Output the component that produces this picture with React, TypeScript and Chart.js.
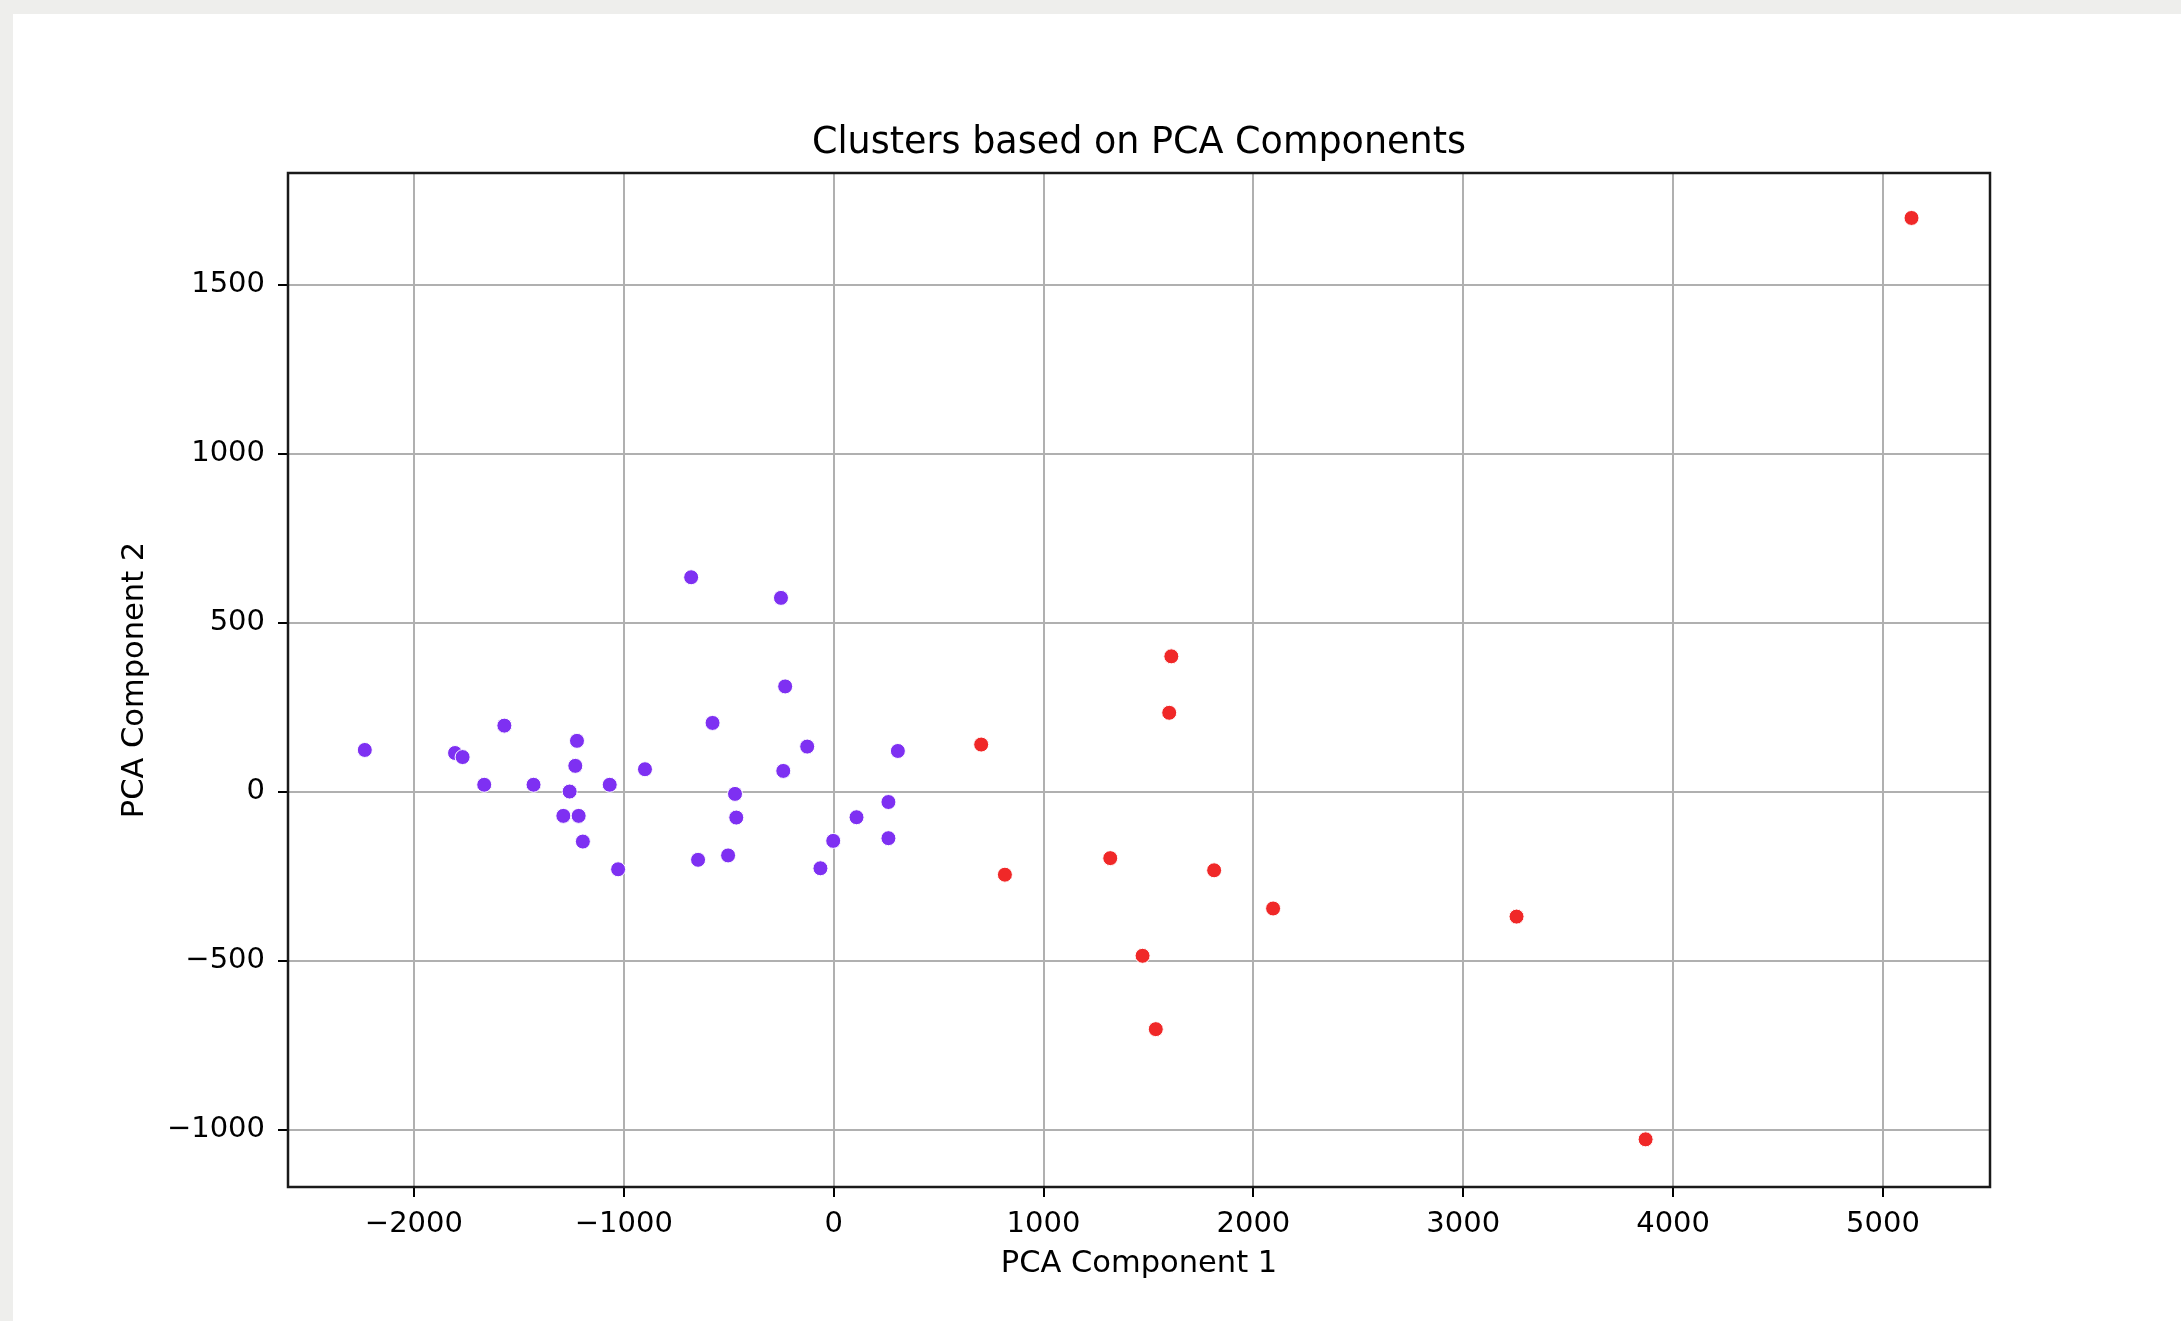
import React, { useEffect, useRef } from "react";
import { Chart, registerables } from "chart.js";

Chart.register(...registerables);

const TITLE = "Clusters based on PCA Components";
const X_LABEL = "PCA Component 1";
const Y_LABEL = "PCA Component 2";

// Cluster 0 (purple)
const purpleX = [-2234, -1804, -1768, -1569, -1665, -1430, -1223, -1231, -1258, -1288, -1215, -1195, -1067, -1027, -899, -679, -251, -231, -577, -126, -240, -470, -464, -646, -503, -63, -2, 109, 261, 261, 306];
const purpleY = [123, 114, 102, 195, 20, 20, 150, 76, 0, -72, -72, -148, 20, -230, 66, 634, 573, 311, 203, 133, 61, -7, -77, -202, -189, -227, -146, -76, -31, -138, 120];

// Cluster 1 (red)
const redX = [703, 1609, 1599, 816, 1318, 1813, 2094, 3254, 1472, 1535, 3869, 5136];
const redY = [139, 400, 233, -246, -197, -233, -346, -370, -486, -703, -1029, 1697];

const xTicks = [-2000, -1000, 0, 1000, 2000, 3000, 4000, 5000];
const yTicks = [-1000, -500, 0, 500, 1000, 1500];

const X_MIN = -2600;
const X_MAX = 5510;
const Y_MIN = -1170;
const Y_MAX = 1830;

const FONT = "'DejaVu Sans', 'Liberation Sans', sans-serif";

const fmt = (v: number | string) => {
  const n = Number(v);
  return n < 0 ? "\u2212" + Math.abs(n) : String(n);
};

export default function App() {
  const ref = useRef<HTMLCanvasElement | null>(null);

  useEffect(() => {
    if (!ref.current) return;
    const bgPlugin = {
      id: "bg",
      beforeDraw(chart: any) {
        const { ctx, width, height } = chart;
        ctx.save();
        ctx.fillStyle = "#ffffff";
        ctx.fillRect(0, 0, width, height);
        ctx.fillStyle = "#eeeeec";
        ctx.fillRect(0, 0, width, 14);
        ctx.fillRect(0, 0, 13, height);
        ctx.restore();
      },
    };
    const framePlugin = {
      id: "frame",
      afterDraw(chart: any) {
        const { ctx, chartArea } = chart;
        ctx.save();
        ctx.strokeStyle = "#1a1a1a";
        ctx.lineWidth = 2.5;
        ctx.strokeRect(chartArea.left, chartArea.top, chartArea.right - chartArea.left, chartArea.bottom - chartArea.top);
        ctx.restore();
      },
    };
    const tickFont = { family: FONT, size: 29, lineHeight: 1.2 };
    const labelFont = { family: FONT, size: 30.5, lineHeight: 1.2 };
    const chart = new Chart(ref.current, {
      type: "scatter",
      data: {
        datasets: [
          {
            label: "0",
            data: purpleX.map((x, i) => ({ x, y: purpleY[i] })),
            backgroundColor: "#7e30f2",
            borderColor: "#ffffff",
            borderWidth: 1,
            pointRadius: 7.5,
          },
          {
            label: "1",
            data: redX.map((x, i) => ({ x, y: redY[i] })),
            backgroundColor: "#f02828",
            borderColor: "#ffffff",
            borderWidth: 1,
            pointRadius: 7.5,
          },
        ],
      },
      options: {
        responsive: false,
        animation: false,
        devicePixelRatio: 1,
        layout: { padding: { left: 0, right: 191, top: 0, bottom: 0 } },
        plugins: {
          legend: { display: false },
          tooltip: { enabled: false },
          title: {
            display: true,
            text: TITLE,
            fullSize: false,
            color: "#000",
            font: { family: FONT, size: 36.5, weight: "normal", lineHeight: 1.2 },
            padding: { top: 122, bottom: 7.2 },
          },
        },
        scales: {
          x: {
            type: "linear",
            position: "bottom",
            min: X_MIN,
            max: X_MAX,
            afterBuildTicks: (s: any) => {
              s.ticks = xTicks.map((v) => ({ value: v }));
            },
            ticks: {
              callback: fmt,
              color: "#000",
              font: tickFont,
              padding: 10,
              maxRotation: 0,
              autoSkip: false,
            },
            grid: { color: "#b0b0b0", lineWidth: 2, tickColor: "#000", tickWidth: 2, tickLength: 10 },
            border: { display: false },
            title: {
              display: true,
              text: X_LABEL,
              color: "#000",
              font: labelFont,
              padding: { top: 0, bottom: 39 },
            },
            afterFit: (s: any) => {
              s.height = 134;
            },
          },
          y: {
            type: "linear",
            position: "left",
            min: Y_MIN,
            max: Y_MAX,
            afterBuildTicks: (s: any) => {
              s.ticks = yTicks.map((v) => ({ value: v }));
            },
            ticks: {
              callback: fmt,
              color: "#000",
              font: tickFont,
              padding: 13,
              autoSkip: false,
            },
            grid: { color: "#b0b0b0", lineWidth: 2, tickColor: "#000", tickWidth: 2, tickLength: 10 },
            border: { display: false },
            title: {
              display: true,
              text: Y_LABEL,
              color: "#000",
              font: labelFont,
              padding: { top: 116.7, bottom: 0 },
            },
            afterFit: (s: any) => {
              s.width = 288;
            },
          },
        },
      },
      plugins: [bgPlugin, framePlugin],
    } as any);
    return () => chart.destroy();
  }, []);

  return (
    <div style={{ position: "fixed", left: 0, top: 0, width: 2181, height: 1321 }}>
      <canvas ref={ref} width={2181} height={1321} style={{ display: "block", width: 2181, height: 1321 }} />
    </div>
  );
}
